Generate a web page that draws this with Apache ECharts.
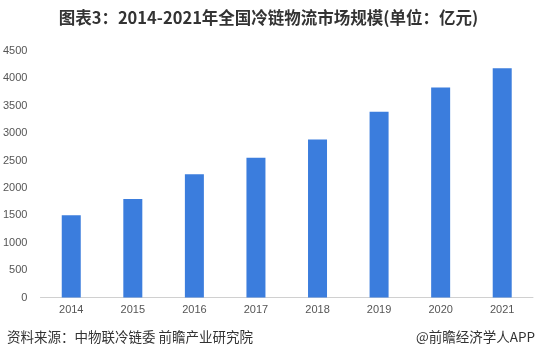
<!DOCTYPE html>
<html><head><meta charset="utf-8">
<script src="https://cdn.jsdelivr.net/npm/echarts@6/dist/echarts.min.js"></script>
<style>html,body{margin:0;padding:0;background:#fff}#c{width:537px;height:359px}</style>
</head><body><div id="c"></div>
<script>
const categories = ['2014','2015','2016','2017','2018','2019','2020','2021'];
const values = [1500, 1800, 2250, 2550, 2886, 3391, 3832, 4184];
const yTicks = [0,500,1000,1500,2000,2500,3000,3500,4000,4500];
const titleText = '图表3：2014-2021年全国冷链物流市场规模(单位：亿元)';
const sourceText = '资料来源：中物联冷链委 前瞻产业研究院';
const brandText = '@前瞻经济学人APP';

const chart = echarts.init(document.getElementById('c'));
chart.setOption({
  animation: false,
  backgroundColor: '#fff',
  title: {
    text: titleText, left: 'center', top: 4,
    textStyle: {fontSize: 16.5, fontWeight: 'bold', color: '#333', fontFamily: 'Noto Sans CJK SC'}
  },
  graphic: [
    {type: 'text', left: 7, top: 330, style: {text: sourceText, fontSize: 13.5, fill: '#333', fontFamily: 'Noto Sans CJK SC'}},
    {type: 'text', right: 2, top: 330, style: {text: brandText, fontSize: 13.5, fill: '#333', fontFamily: 'Noto Sans CJK SC'}}
  ],
  grid: {left: 40, right: 4, top: 51, bottom: 61.5},
  xAxis: {
    type: 'category', data: categories,
    axisLine: {lineStyle: {color: '#d0d0d0'}},
    axisTick: {show: false},
    axisLabel: {color: '#555', fontSize: 11, margin: 7, fontFamily: 'Liberation Sans'}
  },
  yAxis: {
    type: 'value', min: yTicks[0], max: yTicks[yTicks.length-1], interval: 500,
    splitLine: {show: false},
    axisLine: {show: false}, axisTick: {show: false},
    axisLabel: {color: '#555', fontSize: 11, margin: 13, fontFamily: 'Liberation Sans', formatter: v => String(v)}
  },
  series: [{
    type: 'bar', data: values, barWidth: 19,
    itemStyle: {color: '#3b7ddd'}
  }]
});
</script></body></html>
